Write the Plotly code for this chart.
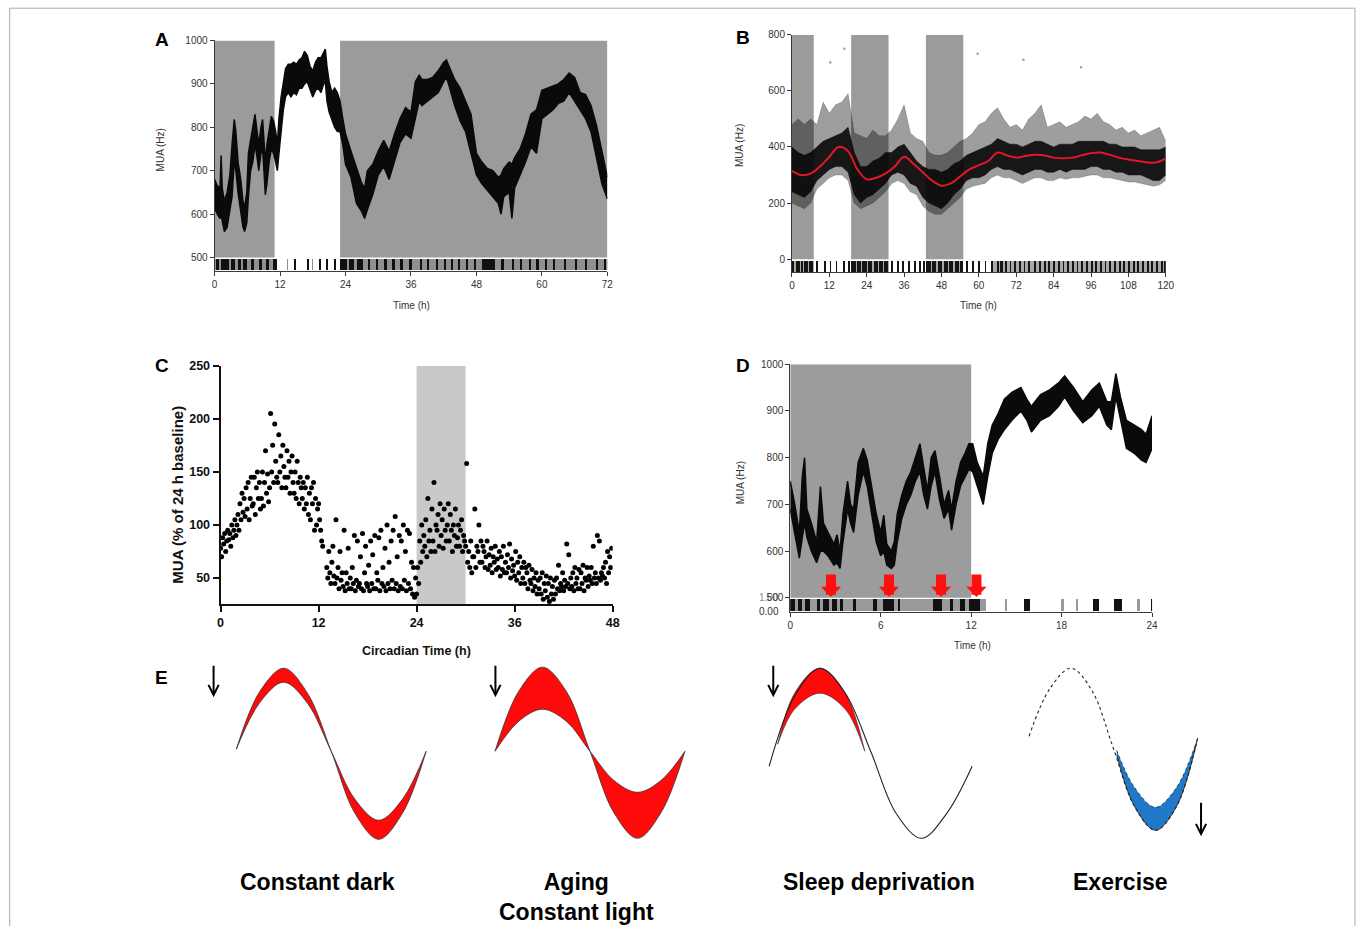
import plotly.graph_objects as go

W, H = 1357, 926          # picture size
# measured mapping of the screenshot (page px -> picture px): picture = S * page + (OX, OY)
S, OX, OY = 0.9917, 2.3, 7.3

# ---------------- Panel A data ----------------
A_T = [0.0,0.5,1.0,1.2,1.4,1.8,2.3,2.8,3.2,3.6,3.9,4.3,4.8,5.2,5.5,5.9,6.2,6.6,7.0,7.4,7.8,8.1,8.5,8.8,9.1,9.3,9.6,10.0,10.4,10.8,11.2,11.5,11.8,12.2,12.6,13.0,13.5,14.0,14.5,15.0,15.5,16.0,16.5,17.0,17.5,18.0,18.5,19.0,19.5,20.0,20.3,20.6,21.0,21.5,22.0,22.5,23.0,23.5,24.0,25.0,26.0,27.0,27.5,28.0,29.0,30.0,31.0,32.0,33.0,34.0,35.0,36.0,36.8,37.5,38.0,39.0,40.0,41.0,42.0,42.5,43.0,44.0,45.0,46.0,47.0,48.0,49.0,50.0,51.0,52.0,52.5,53.0,54.0,54.5,55.0,56.0,57.0,58.0,59.0,60.0,61.0,62.0,63.0,64.0,65.0,66.0,67.0,68.0,69.0,70.0,71.0,72.0]
A_LO = [615,600,590,600,585,560,570,610,640,720,700,650,610,570,560,580,640,700,720,760,730,700,740,750,690,645,670,720,750,740,720,700,740,800,840,870,880,870,880,875,890,890,900,905,885,870,885,890,880,900,905,860,835,815,800,790,790,760,715,685,625,605,590,610,645,690,710,680,720,765,785,775,820,860,850,860,870,880,905,915,895,850,815,790,740,690,670,655,640,625,600,640,650,590,660,690,720,755,740,820,830,840,855,860,880,860,840,820,790,730,670,635]
A_HI = [680,665,660,735,660,630,650,690,760,818,790,720,680,630,615,650,740,770,790,830,790,760,800,818,760,720,760,790,825,815,790,760,820,870,900,935,945,945,950,945,955,960,975,965,940,930,950,960,960,975,980,940,905,880,890,880,860,820,785,745,705,670,660,700,715,745,770,745,785,820,845,835,905,920,910,910,915,930,950,955,940,910,890,860,830,740,720,705,700,685,690,705,720,715,730,750,785,830,840,885,890,895,900,910,925,915,880,875,850,805,745,685]
A_DARK = [(0, 11), (23, 72)]
A_BOUTS = [(0.2,0.8),(1.1,2.6),(2.9,3.7),(4.2,4.8),(5.1,5.9),(6.6,7.2),(8.1,8.7),(9.3,9.9),(10.6,11.4),(14.6,14.85),(16.9,17.1),(19.1,19.3),(20.5,20.7),(21.9,22.1),(23.0,24.2),(24.6,25.4),(26.0,27.2),(28.0,28.4),(29.5,29.9),(31.0,31.5),(32.5,33.0),(34.0,34.4),(35.6,36.2),(37.6,37.9),(39.0,39.3),(40.6,40.9),(42.1,42.3),(43.3,43.6),(44.6,44.9),(46.0,46.4),(47.5,47.8),(49.0,51.3),(52.6,52.9),(54.5,54.8),(56.0,56.3),(57.6,57.9),(59.0,59.3),(60.6,60.9),(62.1,62.4),(64.0,64.3),(66.0,66.3),(67.9,68.2),(69.9,70.2),(71.3,71.7)]
A_BOUTS_GRAY = [(0, 11), (13.2, 13.35), (17.8, 17.95), (23, 72)]
A_XTICKS = [0, 12, 24, 36, 48, 60, 72]
A_YTICKS = [500, 600, 700, 800, 900, 1000]

# ---------------- Panel B data ----------------
B_T = [0,2,4,6,8,10,12,14,16,18,20,22,24,26,28,30,32,34,36,38,40,42,44,46,48,50,52,54,56,58,60,62,64,66,68,70,72,74,76,78,80,82,84,86,88,90,92,94,96,98,100,102,104,106,108,110,112,114,116,118,120]
B_LO = [240,230,220,240,280,300,320,330,330,310,230,200,220,230,250,270,300,310,300,270,260,220,200,190,180,200,230,250,280,290,290,300,320,330,320,320,310,300,310,320,320,310,310,320,310,320,320,320,330,330,320,320,310,310,300,300,300,290,280,280,300]
B_HI = [400,380,370,380,400,420,430,440,450,470,380,330,330,350,360,380,380,400,410,380,350,330,320,320,310,320,340,350,370,380,390,400,410,430,420,410,410,400,410,420,420,410,400,410,410,410,420,420,420,420,420,410,410,400,400,400,390,390,390,390,400]
B_SPK_HI = [480,500,480,500,480,560,520,550,560,590,450,440,430,460,440,440,460,500,550,450,430,420,380,370,370,380,400,420,430,450,480,490,520,540,500,470,480,460,500,520,550,470,480,490,470,480,490,510,500,520,490,480,460,470,450,460,440,450,460,470,420]
B_SPK_LO = [200,190,180,200,250,270,290,300,300,280,200,180,190,200,220,240,270,280,270,240,230,190,170,160,160,180,200,220,250,260,265,270,290,300,290,290,280,270,280,290,290,280,280,290,285,290,290,295,300,300,290,290,285,280,275,275,270,265,260,265,280]
B_FIT_T = [0,3,6,9,12,15,18,21,24,27,30,33,36,39,42,45,48,51,54,57,60,63,66,69,72,75,78,81,84,87,90,93,96,99,102,105,108,111,114,117,120]
B_FIT_V = [315,300,305,330,365,400,385,320,285,290,305,330,365,340,310,280,262,270,295,320,335,350,380,370,362,368,372,370,362,360,362,370,378,380,372,362,355,350,345,345,358]
B_OUT_T = [16.8, 12.3, 59.6, 74.3, 92.8]
B_OUT_V = [750, 701, 732, 711, 684]
B_DARK = [(0, 7), (19, 31), (43, 55)]
B_BOUTS = [(0,0.8),(1.2,2.5),(3,3.6),(4,5.2),(5.6,6.8),(8.0,8.2),(10.5,10.7),(12.3,12.5),(14.2,14.4),(16.5,16.7),(18.2,18.4),(19,20.5),(21,22.2),(22.6,24),(24.5,25.8),(26.3,27.5),(28,29.2),(29.6,30.8),(32,32.3),(34,34.3),(35.5,36),(37.5,37.8),(39.2,39.5),(41,41.3),(42.2,42.5),(43,44.5),(45,46.3),(46.8,48.2),(48.7,50),(50.5,51.8),(52.3,53.5),(54,55),(56,56.3),(58,58.2),(60,60.3),(62,62.2),(64,64.4),(66,66.3),(67,67.6),(68.5,69),(70,70.3),(71.5,71.8),(73,73.3),(74.5,74.8),(76,76.4),(78,78.2),(79.5,79.8),(81,81.4),(82.5,82.8),(84,84.3),(85.5,85.8),(87,87.3),(88.5,88.8),(90,90.5),(91.5,91.8),(93,93.4),(94.5,95),(96,96.5),(97.5,98),(99,99.3),(100.5,100.8),(102,102.3),(103.5,103.8),(105,105.3),(106.5,106.8),(108,108.3),(109.5,109.8),(111,111.3),(112.5,112.8),(114,114.3),(115.5,115.8),(117,117.3),(118.5,118.8),(119.5,119.8)]
B_BOUTS_GRAY = [(0, 7), (19, 31), (43, 55), (64, 120)]
B_XTICKS = [0, 12, 24, 36, 48, 60, 72, 84, 96, 108, 120]
B_YTICKS = [0, 200, 400, 600, 800]

# ---------------- Panel C data (8 samples per hour) ----------------
C_SAMPLE_H = 0.125
C_V = [
    78, 70, 88, 82, 92, 75, 85, 95,
    86, 92, 80, 100, 88, 95, 105, 90,
    100, 110, 95, 120, 105, 130, 112, 125,
    108, 135, 115, 140, 105, 125, 145, 118,
    120, 145, 110, 135, 150, 125, 140, 115,
    125, 150, 118, 140, 170, 130, 148, 122,
    135, 205, 150, 175, 140, 195, 160, 145,
    140, 185, 150, 165, 135, 175, 155, 145,
    135, 170, 145, 160, 130, 150, 165, 140,
    130, 150, 125, 160, 140, 120, 145, 135,
    125, 140, 115, 135, 120, 145, 110, 130,
    105, 135, 120, 140, 95, 125, 100, 115,
    120, 105, 95, 85, 80, None, None, None,
    60, 50, 75, 55, 45, 65, 80, 52,
    45, 105, 50, 60, 40, 75, 48, 55,
    42, 95, 38, 55, 45, 78, 40, 50,
    40, 60, 45, 90, 38, 48, 85, 42,
    45, 70, 40, 92, 38, 55, 80, 45,
    42, 62, 38, 85, 45, 72, 40, 90,
    40, 55, 48, 88, 38, 95, 45, 60,
    42, 78, 38, 100, 45, 65, 40, 85,
    48, 95, 40, 108, 45, 70, 38, 90,
    42, 85, 40, 100, 48, 75, 38, 95,
    45, 92, 40, 65, 35, 60, 32, 50,
    35, 60, 45, 85, 65, 100, 75, 90,
    80, 105, 70, 125, 85, 95, 75, 115,
    85, 140, 75, 100, 95, 110, 80, 120,
    90, 105, 78, 115, 95, 85, 100, 120,
    85, 110, 95, 75, 100, 90, 115, 80,
    88, 100, 80, 95, 105, 75, 90, 85,
    80, 158, 65, 75, 60, 85, 55, 70,
    70, 115, 60, 80, 75, 100, 65, 85,
    65, 80, 75, 60, 70, 85, 58, 72,
    62, 78, 55, 70, 65, 80, 58, 68,
    60, 75, 52, 70, 58, 80, 55, 65,
    55, 72, 60, 82, 50, 68, 57, 62,
    52, 75, 48, 65, 55, 70, 45, 60,
    50, 65, 45, 60, 55, 40, 62, 48,
    45, 58, 38, 50, 42, 55, 35, 48,
    40, 50, 35, 55, 30, 45, 38, 52,
    32, 45, 28, 50, 35, 42, 30, 48,
    35, 50, 40, 62, 38, 45, 42, 55,
    38, 48, 42, 82, 45, 72, 40, 50,
    42, 55, 38, 60, 45, 50, 40, 58,
    40, 55, 45, 62, 38, 50, 48, 60,
    42, 52, 48, 60, 45, 80, 50, 55,
    45, 90, 50, 85, 48, 55, 52, 60,
    50, 65, 45, 75, 55, 70, 60, 78,
]
C_PULSE = (24, 30)
C_XTICKS = [0, 12, 24, 36, 48]
C_YTICKS = [50, 100, 150, 200, 250]

# ---------------- Panel D data ----------------
D_T = [0.0,0.3,0.6,0.8,0.95,1.1,1.4,1.75,2.0,2.2,2.5,2.9,3.1,3.3,3.5,3.8,4.0,4.2,4.5,4.85,5.1,5.4,5.7,6.0,6.2,6.4,6.7,6.9,7.1,7.4,7.7,8.0,8.3,8.6,8.85,9.1,9.35,9.6,9.9,10.2,10.5,10.7,11.0,11.3,11.6,11.85,12.1,12.4,12.8,13.1,13.4,13.8,14.2,14.7,15.3,15.7,16.0,16.6,17.2,17.8,18.2,18.8,19.4,20.0,20.5,21.0,21.3,21.6,21.9,22.3,22.8,23.3,23.6,24.0]
D_LO = [690,640,585,630,660,630,600,575,600,600,590,570,575,563,620,690,660,640,720,770,740,680,620,590,600,570,563,570,620,670,700,720,750,770,720,690,740,770,710,670,690,645,700,740,760,775,770,740,700,760,810,840,860,880,900,880,855,880,890,910,930,900,875,890,910,870,860,930,880,820,810,795,790,820]
D_HI = [750,700,640,760,800,690,660,620,738,660,640,615,635,600,680,750,700,690,790,820,795,740,680,640,677,615,600,620,680,720,750,770,800,830,780,730,800,815,760,700,730,690,750,790,810,830,830,790,760,830,870,895,925,940,950,925,910,935,945,960,975,950,920,945,960,920,920,980,930,880,870,860,850,890]
D_DARK = [(0, 12)]
D_STIM = [2.7, 6.55, 10.0, 12.35]
D_BOUTS = [(0,0.3),(0.5,0.8),(1.0,1.3),(1.8,2.0),(2.2,2.6),(2.8,3.1),(3.3,3.5),(4.2,4.4),(5.5,5.8),(6.2,6.9),(7.2,7.3),(9.5,10.1),(10.6,10.8),(11.3,11.6),(11.9,12.6),(15.5,15.9),(20.1,20.5),(21.5,22.0),(23.95,24.05)]
D_BOUTS_GRAY = [(0, 13), (14.3, 14.35), (18.0, 18.15), (19.0, 19.1), (23.0, 23.2)]
D_XTICKS = [0, 6, 12, 18, 24]
D_YTICKS = [500, 600, 700, 800, 900, 1000]

# ---------------- Panel E schematic data (phase, amplitude) ----------------
E_PHASE = [0, 0.125, 0.25, 0.375, 0.5, 0.625, 0.75, 0.875, 1.0]
E1_OUTER = [2, 60, 83, 58, 0, -62, -88, -62, 0]
E1_INNER = [2, 49, 69, 48, 0, -48, -69, -48, 0]
E2_OUTER = [0, 60, 84, 60, 0, -61, -87, -61, 0]
E2_INNER = [0, 30, 42, 30, 0, -29, -41, -29, 0]
E3_CURVE = [-15, 55, 83, 58, 0, -62, -87, -62, -15]
E3_BAND_PHASE = [0.042, 0.125, 0.25, 0.375, 0.471]
E3_BAND_OUTER = [7, 58, 83, 58, 0]
E3_BAND_INNER = [7, 42, 58, 42, 0]
E4_CURVE = [15, 63, 83, 60, 3, -55, -79, -55, 13]
E4_BAND_PHASE = [0.52, 0.625, 0.75, 0.875, 1.0]
E4_BAND_OUTER = [-4, -55, -79, -55, 13]
E4_BAND_INNER = [1, -36, -56, -36, 13]
E_LABELS = ["Constant dark", "Aging<br>Constant light", "Sleep deprivation", "Exercise"]

FONT = "Liberation Sans, Arial, sans-serif"
AX_COL = "#3a3a3a"


def px(x):
    return ((x - OX) / S) / W


def py(y):
    return 1 - ((y - OY) / S) / H


def dx(a, b):
    return [px(a), px(b)]


def dy(top, bottom):
    return [py(bottom), py(top)]


fig = go.Figure()


def raster(bouts, color, base, height, xa, ya):
    fig.add_trace(go.Bar(
        x=[(s + e) / 2 for s, e in bouts], width=[e - s for s, e in bouts],
        y=[height] * len(bouts), base=base, marker=dict(color=color, line=dict(width=0)),
        xaxis=xa, yaxis=ya, hoverinfo="skip"))


def band(t, lo, hi, color, xa, ya, lw=0.6):
    fig.add_trace(go.Scatter(x=t, y=lo, mode="lines", line=dict(color=color, width=lw),
                             xaxis=xa, yaxis=ya, hoverinfo="skip"))
    fig.add_trace(go.Scatter(x=t, y=hi, mode="lines", line=dict(color=color, width=lw),
                             fill="tonexty", fillcolor=color, xaxis=xa, yaxis=ya, hoverinfo="skip"))


shapes = []
annotations = []

# ---- A ----
for s, e in A_DARK:
    shapes.append(dict(type="rect", xref="x", yref="y", x0=s, x1=e, y0=500, y1=1000,
                       fillcolor="#9b9b9b", line=dict(width=0), layer="below"))
raster(A_BOUTS_GRAY, "#8f8f8f", 471.5, 25, "x", "y")
raster(A_BOUTS, "#111111", 471.5, 25, "x", "y")
band(A_T, A_LO, A_HI, "#0a0a0a", "x", "y", lw=1.5)

# ---- B ----
for s, e in B_DARK:
    shapes.append(dict(type="rect", xref="x2", yref="y2", x0=s, x1=e, y0=0, y1=800,
                       fillcolor="#9b9b9b", line=dict(width=0), layer="below"))
raster(B_BOUTS_GRAY, "#a8a8a8", -44, 40, "x2", "y2")
raster(B_BOUTS, "#151515", -44, 40, "x2", "y2")
band(B_T, B_SPK_LO, B_SPK_HI, "rgba(0,0,0,0.38)", "x2", "y2", lw=0.5)
band(B_T, B_LO, B_HI, "rgba(5,5,5,0.88)", "x2", "y2", lw=0.5)
fig.add_trace(go.Scatter(x=B_FIT_T, y=B_FIT_V, mode="lines", line=dict(color="#e3162b", width=2, shape="spline"),
                         xaxis="x2", yaxis="y2", hoverinfo="skip"))
fig.add_trace(go.Scatter(x=B_OUT_T, y=B_OUT_V, mode="markers", marker=dict(color="#a0a0a0", size=2.5),
                         xaxis="x2", yaxis="y2", hoverinfo="skip"))

# ---- C ----
shapes.append(dict(type="rect", xref="x3", yref="y3", x0=C_PULSE[0], x1=C_PULSE[1], y0=25.2, y1=250,
                   fillcolor="#c9c9c9", line=dict(width=0), layer="below"))
C_T = [i * C_SAMPLE_H for i in range(len(C_V))]
fig.add_trace(go.Scatter(x=C_T, y=C_V, mode="markers", marker=dict(color="#000000", size=5),
                         xaxis="x3", yaxis="y3", hoverinfo="skip"))

# ---- D ----
for s, e in D_DARK:
    shapes.append(dict(type="rect", xref="x4", yref="y4", x0=s, x1=e, y0=500, y1=1000,
                       fillcolor="#9c9c9c", line=dict(width=0), layer="below"))
raster(D_BOUTS_GRAY, "#9a9a9a", 470.5, 26, "x4", "y4")
raster(D_BOUTS, "#111111", 470.5, 26, "x4", "y4")
band(D_T, D_LO, D_HI, "#0a0a0a", "x4", "y4", lw=1.5)
for t in D_STIM:
    annotations.append(dict(x=t, y=502, xref="x4", yref="y4", ax=0, ay=-24, showarrow=True,
                            arrowhead=1, arrowsize=0.34, arrowwidth=10, arrowcolor="#ff1010",
                            standoff=0, text=""))

# ---- E ----
E_DOMAINS = [(235.7, 425.7), (494.6, 684.6), (768.9, 972.0), (1028.9, 1197.6)]
RED = "#ff0a0a"
BLUE = "#1f78c8"
fig.add_trace(go.Scatter(x=E_PHASE, y=E1_INNER, mode="lines", line=dict(color="#333", width=0.8, shape="spline"),
                         xaxis="x5", yaxis="y5", hoverinfo="skip"))
fig.add_trace(go.Scatter(x=E_PHASE, y=E1_OUTER, mode="lines", line=dict(color="#333", width=0.8, shape="spline"),
                         fill="tonexty", fillcolor=RED, xaxis="x5", yaxis="y5", hoverinfo="skip"))
fig.add_trace(go.Scatter(x=E_PHASE, y=E2_INNER, mode="lines", line=dict(color="#333", width=0.8, shape="spline"),
                         xaxis="x6", yaxis="y6", hoverinfo="skip"))
fig.add_trace(go.Scatter(x=E_PHASE, y=E2_OUTER, mode="lines", line=dict(color="#333", width=0.8, shape="spline"),
                         fill="tonexty", fillcolor=RED, xaxis="x6", yaxis="y6", hoverinfo="skip"))
fig.add_trace(go.Scatter(x=E3_BAND_PHASE, y=E3_BAND_INNER, mode="lines", line=dict(color="#333", width=0.6, shape="spline"),
                         xaxis="x7", yaxis="y7", hoverinfo="skip"))
fig.add_trace(go.Scatter(x=E3_BAND_PHASE, y=E3_BAND_OUTER, mode="lines", line=dict(color="#333", width=0.6, shape="spline"),
                         fill="tonexty", fillcolor=RED, xaxis="x7", yaxis="y7", hoverinfo="skip"))
fig.add_trace(go.Scatter(x=E_PHASE, y=E3_CURVE, mode="lines", line=dict(color="#222", width=1.1, shape="spline"),
                         xaxis="x7", yaxis="y7", hoverinfo="skip"))
fig.add_trace(go.Scatter(x=E4_BAND_PHASE, y=E4_BAND_INNER, mode="lines", line=dict(color="#222", width=0.8, shape="spline", dash="dot"),
                         xaxis="x8", yaxis="y8", hoverinfo="skip"))
fig.add_trace(go.Scatter(x=E4_BAND_PHASE, y=E4_BAND_OUTER, mode="lines", line=dict(color="#222", width=0.8, shape="spline"),
                         fill="tonexty", fillcolor=BLUE, xaxis="x8", yaxis="y8", hoverinfo="skip"))
fig.add_trace(go.Scatter(x=E_PHASE, y=E4_CURVE, mode="lines", line=dict(color="#222", width=1.1, shape="spline", dash="dot"),
                         xaxis="x8", yaxis="y8", hoverinfo="skip"))

# E arrows (decorations)
for (ax_x, y_tail, y_tip) in [(213, 664, 697), (495, 664, 697), (773, 664, 697), (1201, 801, 836)]:
    annotations.append(dict(x=px(ax_x), y=py(y_tip), xref="paper", yref="paper",
                            ax=0, ay=-(y_tip - y_tail), showarrow=True, arrowhead=5, arrowsize=1.0,
                            arrowwidth=2, arrowcolor="#000", standoff=0, text=""))

# E labels
for (cx, cy), lab in zip([(317, 882), (576, 897), (879, 882), (1120, 882)], E_LABELS):
    annotations.append(dict(x=px(cx), y=py(cy), xref="paper", yref="paper", text="<b>" + lab + "</b>",
                            showarrow=False, font=dict(family=FONT, size=23, color="#000"), xanchor="center",
                            yanchor="middle"))

# panel letters
for lab, (cx, cy) in zip("ABCDE", [(161, 40), (743, 38), (161, 366), (743, 366), (161, 677)]):
    annotations.append(dict(x=px(cx), y=py(cy), xref="paper", yref="paper", text="<b>" + lab + "</b>",
                            showarrow=False, font=dict(family=FONT, size=19, color="#000"),
                            xanchor="center", yanchor="middle"))

# axis titles
small = dict(family=FONT, size=10, color="#333")
for txt, cx, cy, ang, f in [("MUA (Hz)", 160, 150, -90, small), ("Time (h)", 411, 306, 0, small),
                            ("MUA (Hz)", 740, 146, -90, small), ("Time (h)", 978, 306, 0, small),
                            ("MUA (Hz)", 740, 483, -90, small), ("Time (h)", 972, 645, 0, small),
                            ("<b>MUA (% of 24 h baseline)</b>", 176, 495, -90, dict(family=FONT, size=15, color="#111")),
                            ("<b>Circadian Time (h)</b>", 416, 651, 0, dict(family=FONT, size=12.5, color="#111"))]:
    annotations.append(dict(x=px(cx), y=py(cy), xref="paper", yref="paper", text=txt, textangle=ang,
                            showarrow=False, font=f, xanchor="center", yanchor="middle"))

# D secondary raster scale labels
annotations.append(dict(x=px(781), y=470, xref="paper", yref="y4", text="0.00", showarrow=False,
                        font=small, xanchor="right", yanchor="middle"))
annotations.append(dict(x=px(781), y=501, xref="paper", yref="y4", text="1.00", showarrow=False,
                        font=dict(family=FONT, size=10, color="rgba(50,50,50,0.6)"), xanchor="right", yanchor="middle"))

# outer frame
shapes.append(dict(type="rect", xref="paper", yref="paper", x0=px(9), x1=px(1355), y0=-0.05, y1=py(8.5),
                   line=dict(color="#a8a8a8", width=1), fillcolor="rgba(0,0,0,0)"))


def xax(dom, rng, ticks, anchor, bold=False, lw=1, col=AX_COL, fsize=10, tlen=4):
    return dict(domain=dom, range=rng, tickvals=ticks, ticks="outside", ticklen=tlen, tickwidth=lw,
                tickcolor=col, showline=True, linecolor=col, linewidth=lw, showgrid=False, zeroline=False,
                anchor=anchor, fixedrange=True,
                tickfont=dict(family=FONT, size=fsize, color=("#111" if bold else "#333"),
                              weight=("bold" if bold else "normal")))


layout = dict(
    width=W, height=H, margin=dict(l=0, r=0, t=0, b=0), paper_bgcolor="white", plot_bgcolor="rgba(0,0,0,0)",
    showlegend=False, barmode="overlay", bargap=0,
    xaxis=xax(dx(214, 607), [0, 72], A_XTICKS, "y"),
    yaxis=xax(dy(40.7, 270.7), [470, 1000], A_YTICKS, "x"),
    xaxis2=xax(dx(791.7, 1165.7), [0, 120], B_XTICKS, "y2"),
    yaxis2=xax(dy(35, 272), [-45.3, 800], B_YTICKS, "x2"),
    xaxis3=xax(dx(220, 612.3), [0, 48], C_XTICKS, "y3", bold=True, lw=2, col="#111", fsize=12.5, tlen=6),
    yaxis3=xax(dy(365.7, 604.3), [25.2, 250], C_YTICKS, "x3", bold=True, lw=2, col="#111", fsize=12.5, tlen=6),
    xaxis4=xax(dx(790, 1152), [0, 24], D_XTICKS, "y4"),
    yaxis4=xax(dy(364.3, 611.7), [470, 1000], D_YTICKS, "x4"),
    shapes=shapes, annotations=annotations,
)
for i, (a, b) in enumerate(E_DOMAINS):
    n = 5 + i
    L = b - a
    pad = 12
    layout[f"xaxis{n}"] = dict(domain=dx(a - pad, b + pad), range=[-pad / L, 1 + pad / L], visible=False,
                               fixedrange=True, anchor=f"y{n}")
    layout[f"yaxis{n}"] = dict(domain=dy(650, 860), range=[-109, 101], visible=False, fixedrange=True,
                               anchor=f"x{n}")

fig.update_layout(**layout)
# remove the browser's default page margin so the figure fills the window exactly; hide the mode bar
fig.write_html("out.html", config={"displayModeBar": False},
               post_script="document.body.style.margin='0';document.documentElement.style.overflow='hidden';")
